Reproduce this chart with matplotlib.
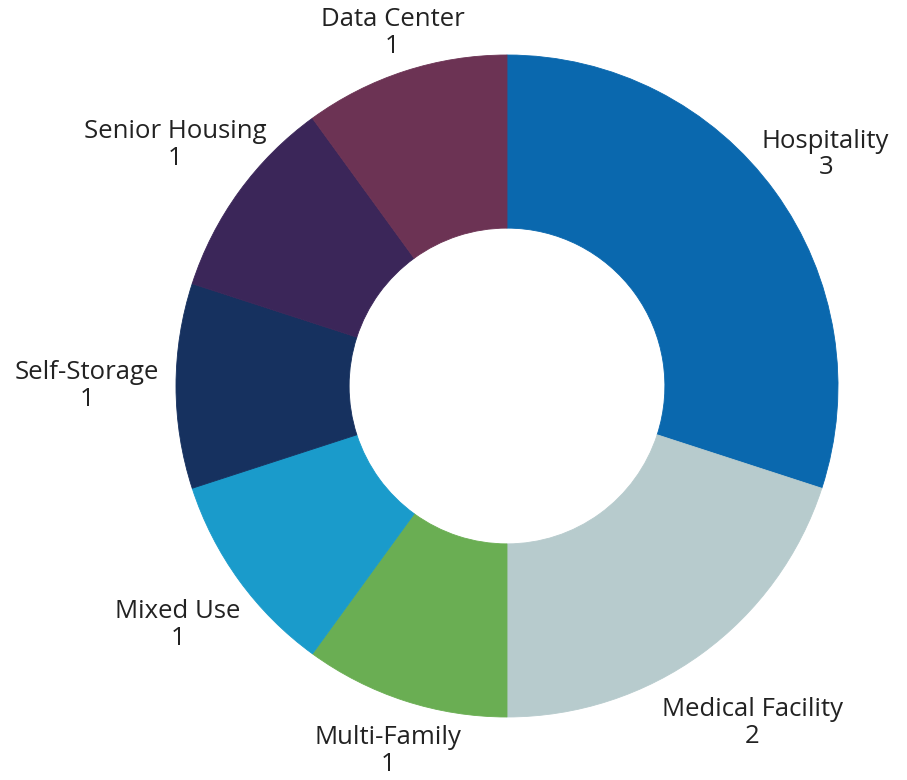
import matplotlib
matplotlib.use("Agg")
import matplotlib.pyplot as plt
import numpy as np

categories = ["Hospitality", "Medical Facility", "Multi-Family", "Mixed Use",
              "Self-Storage", "Senior Housing", "Data Center"]
values = [3, 2, 1, 1, 1, 1, 1]
colors = ["#0a68ae", "#b7cbcd", "#6aae53", "#1a9bcb", "#16315f", "#3b2659", "#6c3354"]
label_dist = [1.19, 1.26, 1.16, 1.23, 1.27, 1.24, 1.12]

plt.rcParams['font.family'] = ['Open Sans', 'DejaVu Sans']

fig = plt.figure(figsize=(9.07, 7.8), dpi=100)
ax = fig.add_axes([0, 0, 1, 1])
wedges, _ = ax.pie(values, colors=colors, startangle=90, counterclock=False,
                   radius=1.0, wedgeprops=dict(width=0.523, linewidth=0.6))
for w, c in zip(wedges, colors):
    w.set_edgecolor(c)

for w, cat, v, d in zip(wedges, categories, values, label_dist):
    ang = np.deg2rad((w.theta1 + w.theta2) / 2)
    ax.text(d * np.cos(ang), d * np.sin(ang), f"{cat}\n{v}", ha="center", va="center",
            fontsize=18.5, color="#222222", linespacing=1.1)

R = 331.0
cx, cy = 507.0, 386.0
ax.set_xlim(-cx / R, (907 - cx) / R)
ax.set_ylim(-(780 - cy) / R, cy / R)
ax.set_aspect('auto')
ax.axis('off')
fig.savefig("out.png", dpi=100, facecolor="white")
